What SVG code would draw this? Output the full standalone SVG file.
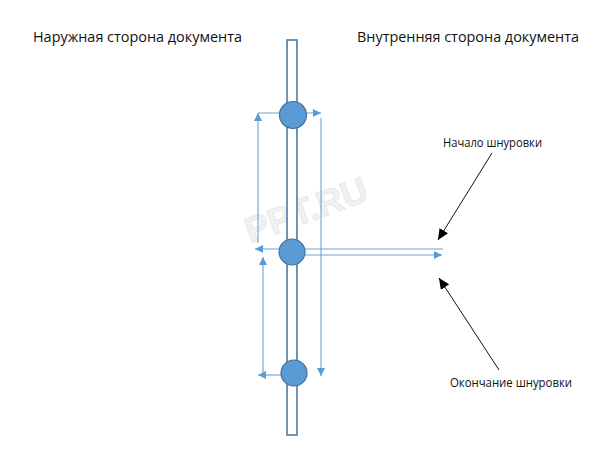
<svg xmlns="http://www.w3.org/2000/svg" width="610" height="463" viewBox="0 0 610 463">
<style>
.lbl{font-family:"Open Sans","Noto Sans","Liberation Sans",sans-serif;fill:#111}
.lace{stroke:#6fa0d6;stroke-width:1.1;fill:none}
.blk{stroke:#111;stroke-width:1;fill:none}
.hole{fill:#5b9bd5;stroke:#41719c;stroke-width:1.2}
</style>
<defs>
<marker id="ab" markerUnits="userSpaceOnUse" markerWidth="9" markerHeight="8" refX="8" refY="4" orient="auto">
<path d="M0,0 L8,4 L0,8 z" fill="#5b9bd5"/>
</marker>
<marker id="ak" markerUnits="userSpaceOnUse" markerWidth="12" markerHeight="10" refX="11" refY="5" orient="auto">
<path d="M0,0 L11,5 L0,10 z" fill="#000"/>
</marker>
</defs>
<rect width="610" height="463" fill="#fff"/>
<text x="308" y="222" transform="rotate(-20 308 215)" text-anchor="middle" font-family="Liberation Sans,sans-serif" font-weight="bold" font-size="36" fill="#f1f1f1" stroke="#e6e6e6" stroke-width="0.8">PPT.RU</text>
<g id="document">
<rect x="287" y="40" width="10" height="395" fill="#fff" stroke="#41719c" stroke-width="1.5"/>
</g>
<g id="connectors">
<line class="lace" x1="258" y1="243" x2="258" y2="113" marker-end="url(#ab)"/>
<line class="lace" x1="258" y1="113" x2="321" y2="113" marker-end="url(#ab)"/>
<line class="lace" x1="321" y1="118" x2="321" y2="376" marker-end="url(#ab)"/>
<line class="lace" x1="443" y1="249" x2="255" y2="249" marker-end="url(#ab)"/>
<line class="lace" x1="298" y1="255" x2="442" y2="255" marker-end="url(#ab)"/>
<line class="lace" x1="263" y1="375" x2="263" y2="257" marker-end="url(#ab)"/>
<line class="lace" x1="282" y1="375" x2="258" y2="375" marker-end="url(#ab)"/>
<line class="blk" x1="492" y1="153" x2="438" y2="240" marker-end="url(#ak)"/>
<line class="blk" x1="499" y1="370" x2="439" y2="278" marker-end="url(#ak)"/>
</g>
<g id="hole-top"><circle class="hole" cx="293" cy="115" r="13.5"/></g>
<g id="hole-mid"><circle class="hole" cx="292" cy="252" r="13"/></g>
<g id="hole-bottom"><circle class="hole" cx="294" cy="373" r="13"/></g>
<g id="label-outer"><text class="lbl" x="33" y="42" font-size="14.5" textLength="209" lengthAdjust="spacingAndGlyphs">Наружная сторона документа</text></g>
<g id="label-inner"><text class="lbl" x="357" y="42" font-size="14.5" textLength="222" lengthAdjust="spacingAndGlyphs">Внутренняя сторона документа</text></g>
<g id="label-start"><text class="lbl" x="443" y="147" font-size="12" textLength="99" lengthAdjust="spacingAndGlyphs">Начало шнуровки</text></g>
<g id="label-end"><text class="lbl" x="450" y="387" font-size="12" textLength="122" lengthAdjust="spacingAndGlyphs">Окончание шнуровки</text></g>
</svg>
